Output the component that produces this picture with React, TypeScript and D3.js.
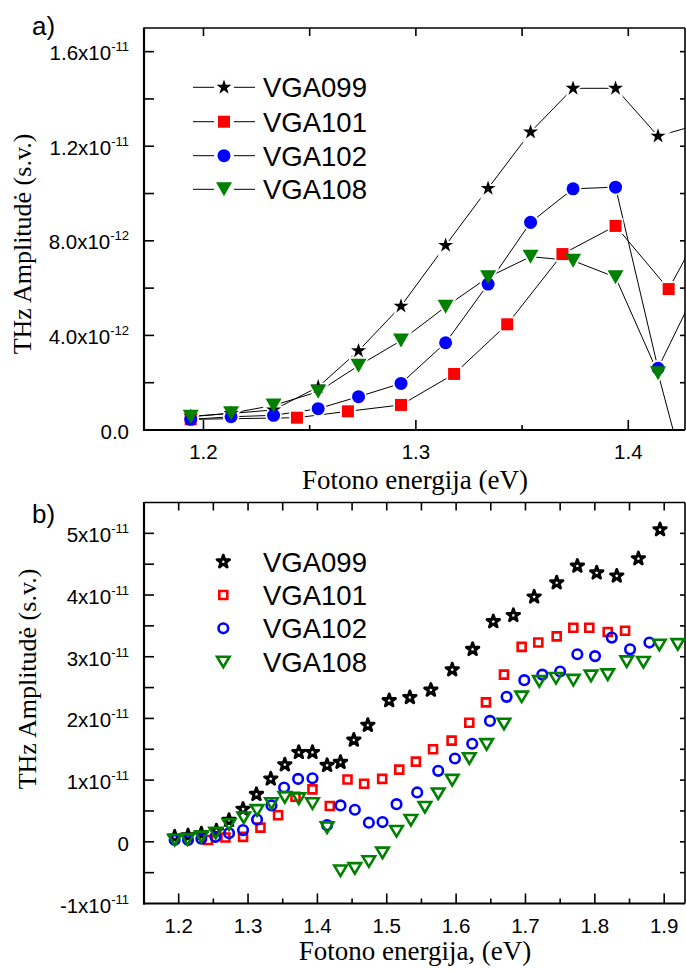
import React from 'react';
import * as d3 from 'd3';

const W = 686;
const H = 969;

// ---------- Panel a data (values in units of 1e-12) ----------
const xA = [1.194, 1.213, 1.233, 1.254, 1.273, 1.293, 1.314, 1.334, 1.354, 1.374, 1.394, 1.414, 1.434];
const yA099 = [0.58, 0.7, 0.85, 1.82, 3.35, 5.24, 7.81, 10.22, 12.6, 14.45, 14.45, 12.43, 12.94];
const yA102 = [0.45, 0.56, 0.62, 0.9, 1.41, 1.97, 3.69, 6.17, 8.78, 10.2, 10.27, 2.61, 6.29];
const yA108 = [0.56, 0.71, 1.04, 1.62, 2.72, 3.78, 5.21, 6.46, 7.33, 7.16, 6.46, 2.4, -4.35];
const xA101 = [1.194, 1.244, 1.268, 1.293, 1.318, 1.343, 1.369, 1.394, 1.419, 1.444];
const yA101 = [0.45, 0.52, 0.79, 1.06, 2.37, 4.47, 7.44, 8.63, 5.96, 10.1];

// ---------- Panel b data (values in units of 1e-11) ----------
const xB099 = [1.1942, 1.2135, 1.2327, 1.2544, 1.2726, 1.2928, 1.3121, 1.3328, 1.353, 1.3732, 1.3929, 1.414, 1.4333, 1.4525, 1.4727, 1.5035, 1.5333, 1.5636, 1.5944, 1.6238, 1.6536, 1.6825, 1.7125, 1.745, 1.7748, 1.8027, 1.8316, 1.8628, 1.894];
const yB099 = [0.08, 0.1, 0.13, 0.18, 0.35, 0.53, 0.77, 1.02, 1.25, 1.45, 1.45, 1.24, 1.29, 1.65, 1.89, 2.29, 2.34, 2.46, 2.79, 3.12, 3.57, 3.67, 3.97, 4.2, 4.47, 4.36, 4.31, 4.59, 5.06];
const xB101 = [1.2423, 1.2674, 1.2928, 1.3179, 1.3433, 1.3684, 1.3929, 1.4179, 1.4434, 1.4674, 1.4934, 1.518, 1.542, 1.5667, 1.5935, 1.619, 1.643, 1.669, 1.6945, 1.7185, 1.745, 1.769, 1.792, 1.8186, 1.8436];
const yB101 = [0.03, 0.07, 0.08, 0.23, 0.43, 0.73, 0.85, 0.58, 1.01, 0.94, 1.02, 1.17, 1.3, 1.5, 1.64, 1.93, 2.26, 2.71, 3.16, 3.23, 3.33, 3.47, 3.47, 3.4, 3.42];
const xB102 = [1.1942, 1.2135, 1.2327, 1.253, 1.2726, 1.2928, 1.313, 1.3338, 1.352, 1.3722, 1.3929, 1.414, 1.4333, 1.454, 1.4742, 1.4939, 1.5141, 1.5439, 1.5742, 1.5983, 1.6232, 1.6488, 1.6728, 1.6983, 1.7243, 1.75, 1.7748, 1.8003, 1.8244, 1.8508, 1.8787];
const yB102 = [0.03, 0.03, 0.05, 0.08, 0.14, 0.19, 0.36, 0.59, 0.88, 1.02, 1.03, 0.27, 0.59, 0.52, 0.31, 0.32, 0.61, 0.8, 1.15, 1.35, 1.59, 1.96, 2.35, 2.62, 2.71, 2.76, 3.04, 3.01, 3.31, 3.12, 3.23];
const xB108 = [1.1942, 1.2126, 1.2327, 1.2534, 1.2726, 1.2938, 1.313, 1.3338, 1.353, 1.3732, 1.3929, 1.414, 1.4333, 1.454, 1.4742, 1.4939, 1.5141, 1.5348, 1.555, 1.5742, 1.5944, 1.619, 1.644, 1.669, 1.6945, 1.72, 1.744, 1.769, 1.7945, 1.8186, 1.846, 1.87, 1.893, 1.9196];
const yB108 = [0.03, 0.04, 0.08, 0.14, 0.28, 0.39, 0.51, 0.62, 0.72, 0.7, 0.62, 0.23, -0.47, -0.43, -0.32, -0.18, 0.17, 0.35, 0.56, 0.78, 1.0, 1.35, 1.58, 1.91, 2.35, 2.6, 2.65, 2.62, 2.69, 2.71, 2.92, 2.91, 3.19, 3.2];

const seriesNames = ['VGA099', 'VGA101', 'VGA102', 'VGA108'];
const seriesColors = ['#000000', '#ff0000', '#0000ff', '#008000'];
const seriesShapes = ['star', 'square', 'circle', 'tri'];

// ---------- ticks ----------
const xMajorA = [1.2, 1.3, 1.4];
const xMinorA = [1.25, 1.35];
const xLabelsA = ['1.2', '1.3', '1.4'];
const yTicksA = [0, 2e-12, 4e-12, 6e-12, 8e-12, 1e-11, 1.2e-11, 1.4e-11, 1.6e-11];
const yLabelValsA = [0, 4e-12, 8e-12, 1.2e-11, 1.6e-11];
const yLabelMantA = ['0.0', '4.0x10', '8.0x10', '1.2x10', '1.6x10'];
const yLabelExpA = ['', '-12', '-12', '-11', '-11'];

const xMajorB = [1.2, 1.3, 1.4, 1.5, 1.6, 1.7, 1.8, 1.9];
const xMinorB = [1.25, 1.35, 1.45, 1.55, 1.65, 1.75, 1.85];
const xLabelsB = ['1.2', '1.3', '1.4', '1.5', '1.6', '1.7', '1.8', '1.9'];
const yTicksB = [-1e-11, -0.5e-11, 0, 0.5e-11, 1e-11, 1.5e-11, 2e-11, 2.5e-11, 3e-11, 3.5e-11, 4e-11, 4.5e-11, 5e-11];
const yLabelValsB = [-1e-11, 0, 1e-11, 2e-11, 3e-11, 4e-11, 5e-11];
const yLabelMantB = ['-1x10', '0', '1x10', '2x10', '3x10', '4x10', '5x10'];
const yLabelExpB = ['-11', '', '-11', '-11', '-11', '-11', '-11'];

const SANS = '"Liberation Sans", Arial, Helvetica, sans-serif';
const SERIF = '"Liberation Serif", "Times New Roman", serif';

const L = 144;
const R = 685;

// Panel a scales
const xa = d3.scaleLinear().domain([1.172, 1.4267]).range([L, R]);
const ya = d3.scaleLinear().domain([0, 1.7e-11]).range([430, 28]);
// Panel b scales
const xb = d3.scaleLinear().domain([1.15, 1.93]).range([L, R]);
const yb = d3.scaleLinear().domain([-1e-11, 5.5e-11]).range([903.5, 502.5]);

function shapePath(kind: string, filled: boolean): string {
  if (kind === 'star') return d3.symbol(d3.symbolStar, filled ? 70 : 48)() as string;
  if (kind === 'square') return d3.symbol(d3.symbolSquare, filled ? 144 : 64)() as string;
  if (kind === 'circle') return d3.symbol(d3.symbolCircle, filled ? 133 : 72)() as string;
  const w = filled ? 16 : 12.5;
  const h = filled ? 14 : 10.5;
  return `M${-w / 2},${-h / 2}L${w / 2},${-h / 2}L0,${h / 2}Z`;
}

type Ticks = {
  x: d3.ScaleLinear<number, number>;
  y: d3.ScaleLinear<number, number>;
  xMajor: number[];
  xMinor: number[];
  yTicks: number[];
  top: number;
  bottom: number;
};

function Frame({ x, y, xMajor, xMinor, yTicks, top, bottom }: Ticks) {
  const els: React.ReactNode[] = [];
  xMajor.forEach((v, i) => {
    const px = x(v);
    els.push(<line key={'bM' + i} x1={px} x2={px} y1={bottom} y2={bottom - 10} />);
    els.push(<line key={'tM' + i} x1={px} x2={px} y1={top} y2={top + 8} />);
  });
  xMinor.forEach((v, i) => {
    const px = x(v);
    els.push(<line key={'bm' + i} x1={px} x2={px} y1={bottom} y2={bottom - 5} />);
    els.push(<line key={'tm' + i} x1={px} x2={px} y1={top} y2={top + 8} />);
  });
  yTicks.forEach((v, i) => {
    const py = y(v);
    if (Math.abs(py - bottom) < 1 || Math.abs(py - top) < 1) return;
    els.push(<line key={'l' + i} x1={L} x2={L + 10} y1={py} y2={py} />);
    els.push(<line key={'r' + i} x1={R} x2={R - 5} y1={py} y2={py} />);
  });
  return (
    <g stroke="#000" strokeWidth={1.6} fill="none">
      {els}
      <line x1={L} x2={R} y1={top} y2={top} strokeWidth={1.6} />
      <line x1={R} x2={R} y1={top} y2={bottom} strokeWidth={1.6} />
      <line x1={L} x2={L} y1={top - 0.5} y2={bottom + 1} strokeWidth={2.2} />
      <line x1={L - 1} x2={R} y1={bottom} y2={bottom} strokeWidth={2.2} />
    </g>
  );
}

function YLabels({ y, vals, mant, exp, dy }: { y: any; vals: number[]; mant: string[]; exp: string[]; dy: number }) {
  return (
    <g fontFamily={SANS} fontSize={20.5} fill="#000">
      {vals.map((v, i) => (
        <text key={i} x={129} y={y(v) + dy} textAnchor="end">
          <tspan>{mant[i]}</tspan>
          {exp[i] ? (
            <tspan fontSize={13} dy={-9}>
              {exp[i]}
            </tspan>
          ) : null}
        </text>
      ))}
    </g>
  );
}

export default function App() {
  const lineGen = (xs: number[], ys: number[], scale: number) =>
    d3
      .line<number>()
      .x((_, i) => xa(xs[i]))
      .y((d) => ya(d * scale))(ys) as string;

  const aSeries = [
    { xs: xA, ys: yA099 },
    { xs: xA101, ys: yA101 },
    { xs: xA, ys: yA102 },
    { xs: xA, ys: yA108 },
  ];
  const bSeries = [
    { xs: xB099, ys: yB099 },
    { xs: xB101, ys: yB101 },
    { xs: xB102, ys: yB102 },
    { xs: xB108, ys: yB108 },
  ];

  const legendAY = [87.3, 121.7, 155.7, 189.3];
  const legendBY = [561.7, 595, 628.3, 662];
  const bStroke = [2.9, 2.6, 2.6, 2.6];

  return (
    <svg
      width={W}
      height={H}
      viewBox={`0 0 ${W} ${H}`}
      style={{ position: 'absolute', left: 0, top: 0, background: '#fff' }}
    >
      <defs>
        <clipPath id="clipA">
          <rect x={L} y={28} width={R - L} height={430 - 28} />
        </clipPath>
      </defs>
      <rect x={0} y={0} width={W} height={H} fill="#fff" />

      {/* ---------------- Panel a ---------------- */}
      <text x={32} y={35} fontFamily={SANS} fontSize={26}>a)</text>
      <g clipPath="url(#clipA)">
        {aSeries.map((s, k) => (
          <path key={'la' + k} d={lineGen(s.xs, s.ys, 1e-12)} fill="none" stroke="#000" strokeWidth={1} />
        ))}
        {aSeries.map((s, k) =>
          s.xs.map((xv, i) => (
            <path
              key={'ha' + k + '-' + i}
              d={shapePath(seriesShapes[k], true)}
              transform={`translate(${xa(xv)},${ya(s.ys[i] * 1e-12)})`}
              fill="#fff"
              stroke="#fff"
              strokeWidth={3.5}
            />
          ))
        )}
        {aSeries.map((s, k) =>
          s.xs.map((xv, i) => (
            <path
              key={'ma' + k + '-' + i}
              d={shapePath(seriesShapes[k], true)}
              transform={`translate(${xa(xv)},${ya(s.ys[i] * 1e-12)})`}
              fill={seriesColors[k]}
            />
          ))
        )}
      </g>
      <Frame x={xa} y={ya} xMajor={xMajorA} xMinor={xMinorA} yTicks={yTicksA} top={28} bottom={430} />
      <g fontFamily={SANS} fontSize={20.5} textAnchor="middle">
        {xMajorA.map((v, i) => (
          <text key={i} x={xa(v)} y={459}>{xLabelsA[i]}</text>
        ))}
      </g>
      <YLabels y={ya} vals={yLabelValsA} mant={yLabelMantA} exp={yLabelExpA} dy={8.5} />
      <text x={415} y={489} fontFamily={SERIF} fontSize={27} textAnchor="middle">Fotono energija (eV)</text>
      <text transform="translate(31,244) rotate(-90)" fontFamily={SERIF} fontSize={26} textAnchor="middle" fill="#000">THz Amplitudė (s.v.)</text>

      {/* legend a */}
      {seriesNames.map((n, k) => (
        <g key={'lga' + k}>
          <line x1={193} x2={214} y1={legendAY[k]} y2={legendAY[k]} stroke="#000" strokeWidth={1} />
          <line x1={234} x2={255} y1={legendAY[k]} y2={legendAY[k]} stroke="#000" strokeWidth={1} />
          <path d={shapePath(seriesShapes[k], true)} transform={`translate(224,${legendAY[k]})`} fill={seriesColors[k]} />
          <text x={263} y={legendAY[k] + 10} fontFamily={SANS} fontSize={27.5}>{n}</text>
        </g>
      ))}

      {/* ---------------- Panel b ---------------- */}
      <text x={32} y={523} fontFamily={SANS} fontSize={26}>b)</text>
      <Frame x={xb} y={yb} xMajor={xMajorB} xMinor={xMinorB} yTicks={yTicksB} top={502.5} bottom={903.5} />
      {bSeries.map((s, k) =>
        s.xs.map((xv, i) => (
          <path
            key={'mb' + k + '-' + i}
            d={shapePath(seriesShapes[k], false)}
            transform={`translate(${xb(xv)},${yb(s.ys[i] * 1e-11)})`}
            fill="none"
            stroke={seriesColors[k]}
            strokeWidth={bStroke[k]}
            strokeLinejoin={k === 0 ? 'round' : 'miter'}
          />
        ))
      )}
      <g fontFamily={SANS} fontSize={20.5} textAnchor="middle">
        {xMajorB.map((v, i) => (
          <text key={i} x={xb(v)} y={933}>{xLabelsB[i]}</text>
        ))}
      </g>
      <YLabels y={yb} vals={yLabelValsB} mant={yLabelMantB} exp={yLabelExpB} dy={9} />
      <text x={415} y={960} fontFamily={SERIF} fontSize={27} textAnchor="middle">Fotono energija, (eV)</text>
      <text transform="translate(36,679) rotate(-90)" fontFamily={SERIF} fontSize={26} textAnchor="middle" fill="#000">THz Amplitudė (s.v.)</text>

      {/* legend b */}
      {seriesNames.map((n, k) => (
        <g key={'lgb' + k}>
          <path
            d={shapePath(seriesShapes[k], false)}
            transform={`translate(223.3,${legendBY[k]})`}
            fill="none"
            stroke={seriesColors[k]}
            strokeWidth={bStroke[k]}
            strokeLinejoin={k === 0 ? 'round' : 'miter'}
          />
          <text x={263} y={legendBY[k] + 10} fontFamily={SANS} fontSize={27.5}>{n}</text>
        </g>
      ))}
    </svg>
  );
}
